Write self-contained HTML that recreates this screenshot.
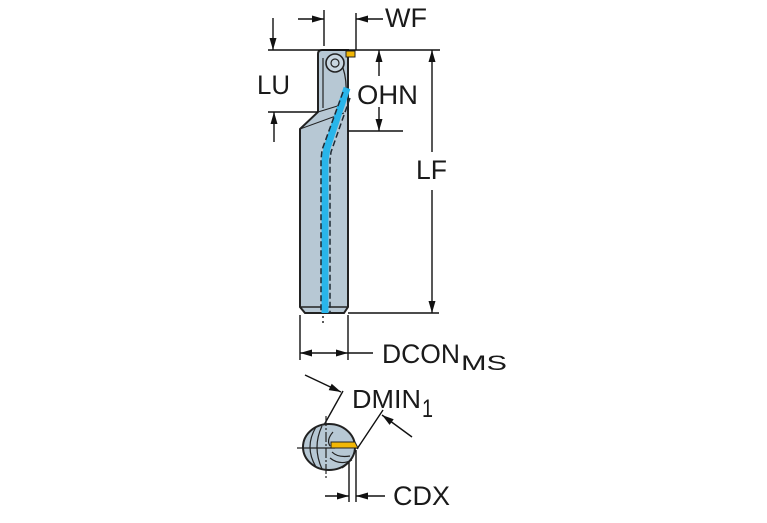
<!DOCTYPE html>
<html>
<head>
<meta charset="utf-8">
<style>
html,body{margin:0;padding:0;background:#fff;}
svg{display:block;}
text{font-family:"Liberation Sans",Arial,sans-serif;fill:#1a1a1a;}
</style>
</head>
<body>
<svg width="767" height="523" viewBox="0 0 767 523" xmlns="http://www.w3.org/2000/svg">
  <!-- ===== Side view tool ===== -->
  <path d="M318,54 Q318,50 322,50 L348,50 L348,307 L344,313 L305,313 L300,307 L300,129 L318,112 Z" fill="#b7c8d4" stroke="#222" stroke-width="2"/>
  <line x1="300" y1="307" x2="348" y2="307" stroke="#222" stroke-width="1.5"/>
  <!-- head details -->
  <circle cx="335" cy="63" r="9" fill="#c8d6e0" stroke="#222" stroke-width="1.6"/>
  <circle cx="335" cy="63" r="4" fill="none" stroke="#222" stroke-width="1.2"/>
  <line x1="323" y1="58" x2="323" y2="108" stroke="#222" stroke-width="1.2"/>
  <path d="M343,68 Q347,80 346,96" fill="none" stroke="#222" stroke-width="1.2"/>
  <line x1="300" y1="129" x2="344" y2="113" stroke="#222" stroke-width="1"/>
  <line x1="318" y1="112" x2="344" y2="104" stroke="#222" stroke-width="1"/>
  <!-- insert -->
  <rect x="346" y="51" width="9" height="6" fill="#f2b705" stroke="#222" stroke-width="1"/>
  <!-- coolant -->
  <polyline points="347,88 327,148 325,160 325,313" fill="none" stroke="#29b5ea" stroke-width="7"/>
  <polyline points="343,92 322,150 321,160 321,313" fill="none" stroke="#1f2a33" stroke-width="1.5" stroke-dasharray="6,3"/>
  <polyline points="350,98 331,152 330,160 330,313" fill="none" stroke="#1f2a33" stroke-width="1.5" stroke-dasharray="6,3"/>
  <line x1="323" y1="316" x2="323" y2="318" stroke="#222" stroke-width="1.5"/>
  <line x1="323" y1="321" x2="323" y2="323" stroke="#222" stroke-width="1.5"/>

  <!-- ===== Dimension lines ===== -->
  <g stroke="#111" stroke-width="1.4" fill="none">
    <line x1="268" y1="50" x2="440" y2="50"/>
    <!-- LU -->
    <line x1="273" y1="18" x2="273" y2="50"/>
    <line x1="274" y1="112" x2="274" y2="142"/>
    <line x1="268" y1="112" x2="318" y2="112"/>
    <!-- WF -->
    <line x1="324" y1="10" x2="324" y2="46"/>
    <line x1="298" y1="19" x2="324" y2="19"/>
    <line x1="356" y1="13" x2="356" y2="50"/>
    <line x1="356" y1="19" x2="383" y2="19"/>
    <!-- OHN -->
    <line x1="379" y1="50" x2="379" y2="76"/>
    <line x1="379" y1="107" x2="379" y2="131"/>
    <line x1="348" y1="131" x2="403" y2="131"/>
    <!-- LF -->
    <line x1="432" y1="50" x2="432" y2="152"/>
    <line x1="432" y1="190" x2="432" y2="313"/>
    <line x1="348" y1="313" x2="439" y2="313"/>
    <!-- DCON -->
    <line x1="300" y1="315" x2="300" y2="360"/>
    <line x1="348" y1="315" x2="348" y2="360"/>
    <line x1="300" y1="353" x2="373" y2="353"/>
    <!-- DMIN -->
    <line x1="324" y1="425" x2="343" y2="391"/>
    <line x1="357" y1="449" x2="383" y2="410"/>
    <line x1="305" y1="375" x2="341" y2="392"/>
    <line x1="412" y1="437" x2="382" y2="415"/>
    <!-- CDX -->
    <line x1="349" y1="450" x2="349" y2="502"/>
    <line x1="356" y1="450" x2="356" y2="502"/>
    <line x1="325" y1="496" x2="349" y2="496"/>
    <line x1="356" y1="496" x2="385" y2="496"/>
  </g>
  <g fill="#111">
    <polygon points="273,50 269.5,38 276.5,38"/>
    <polygon points="274,112 270.5,124 277.5,124"/>
    <polygon points="324,19 312,15.5 312,22.5"/>
    <polygon points="356,19 368,15.5 368,22.5"/>
    <polygon points="379,50 375.5,62 382.5,62"/>
    <polygon points="379,131 375.5,119 382.5,119"/>
    <polygon points="432,50 428.5,62 435.5,62"/>
    <polygon points="432,313 428.5,301 435.5,301"/>
    <polygon points="300,353 312,349.5 312,356.5"/>
    <polygon points="348,353 336,349.5 336,356.5"/>
    <polygon points="341,392 328.7,390.1 331.7,383.7"/>
    <polygon points="382,415 393.7,419.3 389.6,424.9"/>
    <polygon points="349,496 337,492.5 337,499.5"/>
    <polygon points="356,496 368,492.5 368,499.5"/>
  </g>

  <!-- ===== End view ===== -->
  <ellipse cx="329" cy="447" rx="26" ry="23" fill="#b7c8d4" stroke="#222" stroke-width="2"/>
  <g fill="none" stroke="#222" stroke-width="1.2">
    <path d="M316,427 Q304,447 316,467"/>
    <path d="M322,426 Q312,447 322,469"/>
    <path d="M333,432 Q326,440 330,446"/>
    <path d="M332,452 Q338,458 350,456"/>
    <path d="M330,458 Q340,466 352,460"/>
    <path d="M355,450 Q352,462 342,468"/>
  </g>
  <line x1="297" y1="448" x2="335" y2="448" stroke="#222" stroke-width="1.3"/>
  <line x1="326" y1="416" x2="326" y2="480" stroke="#222" stroke-width="1.2" stroke-dasharray="10,2,2,2"/>
  <polygon points="331,442 355,442 358,448 331,448" fill="#f2b705" stroke="#222" stroke-width="1"/>

  <!-- ===== Labels ===== -->
  <text x="385" y="27" font-size="27" textLength="42" lengthAdjust="spacingAndGlyphs">WF</text>
  <text x="257" y="94" font-size="27" textLength="33" lengthAdjust="spacingAndGlyphs">LU</text>
  <text x="357" y="104" font-size="27" textLength="61" lengthAdjust="spacingAndGlyphs">OHN</text>
  <text x="416" y="179" font-size="27" textLength="31" lengthAdjust="spacingAndGlyphs">LF</text>
  <text x="382" y="363" font-size="27" textLength="78" lengthAdjust="spacingAndGlyphs">DCON</text>
  <text x="461" y="370" font-size="21" textLength="46" lengthAdjust="spacingAndGlyphs">MS</text>
  <text x="352" y="408" font-size="26" textLength="69" lengthAdjust="spacingAndGlyphs">DMIN</text>
  <text x="422" y="417" font-size="25" textLength="11" lengthAdjust="spacingAndGlyphs">1</text>
  <text x="393" y="505" font-size="27" textLength="57" lengthAdjust="spacingAndGlyphs">CDX</text>
</svg>
</body>
</html>
